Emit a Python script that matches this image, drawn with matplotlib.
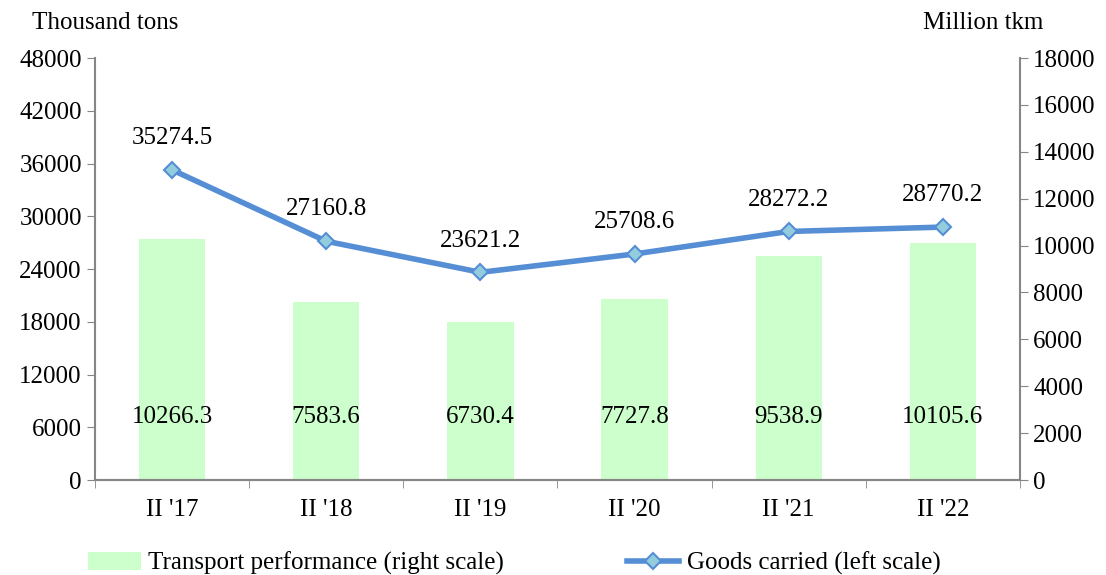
import numpy as np
from matplotlib import pyplot as plt

categories = ["II '17", "II '18", "II '19", "II '20", "II '21", "II '22"]
goods = [35274.5, 27160.8, 23621.2, 25708.6, 28272.2, 28770.2]
transport = [10266.3, 7583.6, 6730.4, 7727.8, 9538.9, 10105.6]

plt.rcParams["font.family"] = ["Liberation Serif", "DejaVu Serif"]
plt.rcParams["font.size"] = 18

grey = "#868686"
fig = plt.figure(figsize=(11.06, 5.75), dpi=100)
ax = fig.add_axes([0.0859, 0.1652, 0.8363, 0.7339])
ax2 = ax.twinx()

x = np.arange(len(categories))

# bars on right scale
ax2.bar(x, transport, width=0.43, color="#CCFFCC", zorder=1,
        label="Transport performance (right scale)")
ax2.set_ylim(0, 18000)
ax2.set_yticks(np.arange(0, 18001, 2000))

# line on left scale, drawn above bars
ax.set_zorder(ax2.get_zorder() + 1)
ax.patch.set_visible(False)
ax.plot(x, goods, color="#558ED5", lw=4, marker="D", ms=8,
        mfc="#93CDDD", mec="#558ED5", mew=1.5,
        label="Goods carried (left scale)")
ax.set_ylim(0, 48000)
ax.set_yticks(np.arange(0, 48001, 6000))
ax.set_xlim(-0.5, len(categories) - 0.5)

for xi, g in zip(x, goods):
    ax.annotate(f"{g}", (xi, g), xytext=(0, 15), textcoords="offset points",
                ha="center", va="bottom")
for xi, t in zip(x, transport):
    ax.text(xi, 7200, f"{t}", ha="center", va="center")

ax.set_xticks(x)
ax.set_xticklabels(categories)
ax.set_xticks(np.arange(-0.5, len(categories)), minor=True)
ax.tick_params(axis="x", which="major", length=0, pad=14)
ax.tick_params(axis="x", which="minor", length=6, color=grey, direction="out")
ax.tick_params(axis="y", length=6, color=grey, direction="out")
ax2.tick_params(axis="y", length=6, color=grey, direction="out")

for a in (ax, ax2):
    a.spines["top"].set_visible(False)
    for s in ("left", "right", "bottom"):
        a.spines[s].set_color(grey)
        a.spines[s].set_linewidth(1.5)
ax.spines["right"].set_visible(False)
ax2.spines["left"].set_visible(False)

fig.text(0.095, 0.96, "Thousand tons", ha="center", va="center")
fig.text(0.889, 0.96, "Million tkm", ha="center", va="center")

h1, l1 = ax2.get_legend_handles_labels()
h2, l2 = ax.get_legend_handles_labels()
fig.legend(h1 + h2, l1 + l2, loc="center", bbox_to_anchor=(0.465, 0.02),
           ncol=2, frameon=False, columnspacing=4.9, handlelength=2.1,
           handletextpad=0.3)

fig.savefig("out.png", dpi=100)
